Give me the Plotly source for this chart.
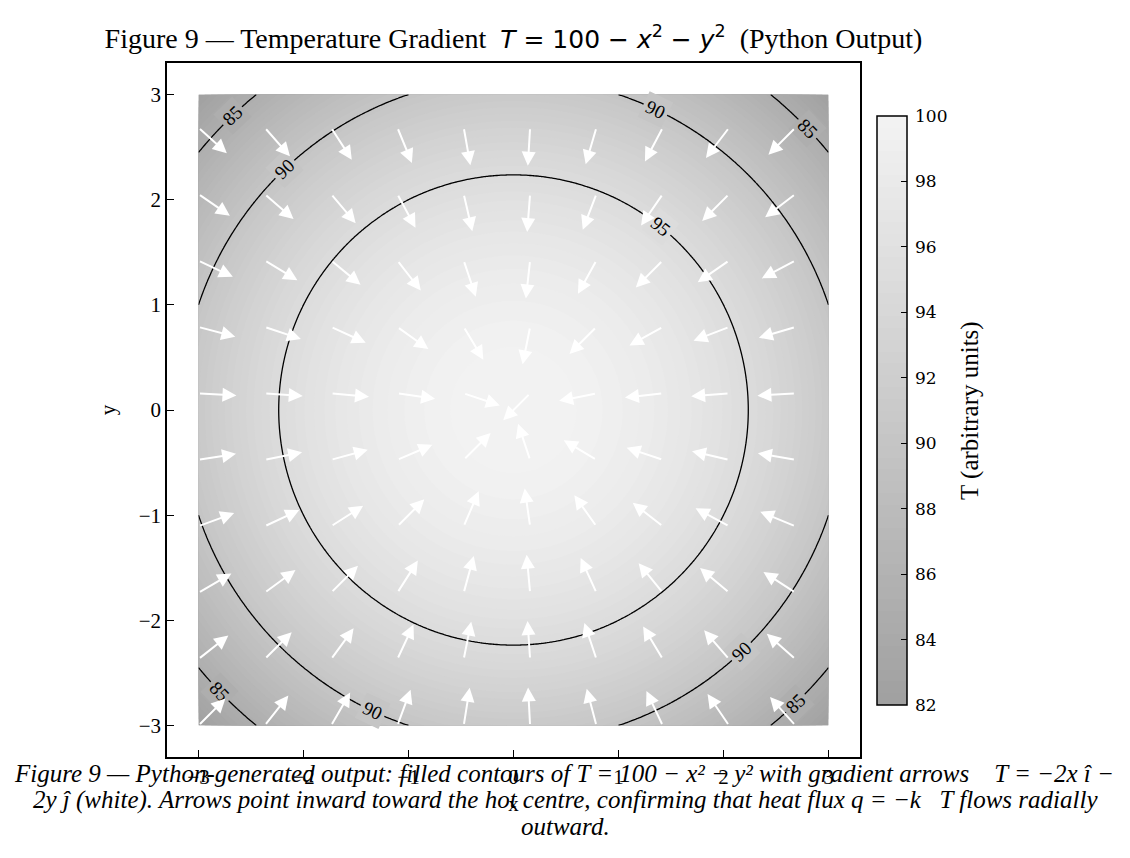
import numpy as np
import plotly.graph_objects as go

# ---------------- data ----------------
# Temperature field from the chart's own definition T = 100 - x^2 - y^2 on [-3, 3]^2
x_field = np.linspace(-3, 3, 301)
y_field = np.linspace(-3, 3, 301)
XF, YF = np.meshgrid(x_field, y_field)
T_field = 100 - XF**2 - YF**2

# quiver sample points (every second node of a 20-point grid)
arrow_x = np.linspace(-3, 3, 20)[::2]
arrow_y = np.linspace(-3, 3, 20)[::2]
arrow_len = 0.362                      # normalised arrow length (data units)

contour_levels = [85, 90, 95]
fill_levels = dict(start=82, end=100, size=0.36)
cbar_ticks = [82, 84, 86, 88, 90, 92, 94, 96, 98, 100]
axis_ticks = [-3, -2, -1, 0, 1, 2, 3]

# inline contour labels: level and polar angle (deg) on that level's circle
label_levels = [85, 85, 85, 85, 90, 90, 90, 90, 95]
label_angles = [43.7, 133.7, 223.7, 313.9, 64.7, 133.5, 244.8, 313.4, 51.2]

caption_lines = [
    "Figure 9 \u2014 Python-generated output: filled contours of T = 100 \u2212 x\u00b2 \u2212 y\u00b2 with gradient arrows \u00a0\u00a0\u00a0T = \u22122x \u00ee \u2212",
    "2y \u0135 (white). Arrows point inward toward the hot centre, confirming that heat flux q = \u2212k \u00a0\u00a0T flows radially",
    "outward.",
]

W, H = 1130, 858
SERIF = "Liberation Serif"
C_LO, C_HI = 160, 243          # grey levels at T=82 and T=100


def grey_at(t):
    g = int(round(C_LO + (t - 82) / 18 * (C_HI - C_LO)))
    return f"rgb({g},{g},{g})"


fig = go.Figure()

# filled contours
fig.add_trace(go.Contour(
    x=x_field, y=y_field, z=T_field,
    colorscale=[[0, grey_at(82)], [1, grey_at(100)]],
    zmin=82, zmax=100, autocontour=False,
    contours=dict(start=fill_levels["start"], end=fill_levels["end"], size=fill_levels["size"],
                  coloring="fill", showlines=False),
    line=dict(width=0),
    hoverinfo="skip",
    colorbar=dict(
        x=877 / W, xanchor="left", xpad=0, ypad=0,
        y=1 - 410.5 / H, yanchor="middle",
        len=589 / H, lenmode="fraction",
        thickness=30, thicknessmode="pixels",
        outlinecolor="black", outlinewidth=1.5,
        ticks="inside", ticklen=6, tickwidth=1.3, tickcolor="black",
        tickvals=cbar_ticks,
        ticktext=["\u2009" + str(v) for v in cbar_ticks],
        tickfont=dict(family="DejaVu Serif", size=17, color="black"),
    ),
))

# contour lines (black)
for lev in contour_levels:
    fig.add_trace(go.Contour(
        x=x_field, y=y_field, z=T_field,
        autocontour=False,
        colorscale=[[0, "black"], [1, "black"]],
        contours=dict(start=lev, end=lev, size=1, coloring="lines", showlabels=False),
        line=dict(width=1.3),
        showscale=False, hoverinfo="skip",
    ))

annotations = []

# inline contour labels, placed on the level circle T = lev
for lev, ang in zip(label_levels, label_angles):
    r = np.sqrt(100 - lev)
    th = np.radians(ang)
    rot = (ang + 90 + 90) % 180 - 90          # tangent direction, kept readable
    annotations.append(dict(
        x=r * np.cos(th), y=r * np.sin(th), xref="x", yref="y",
        text=str(lev), showarrow=False, textangle=-rot,
        font=dict(family=SERIF, size=19, color="black"),
        bgcolor=grey_at(lev), borderpad=3,
        xanchor="center", yanchor="middle",
    ))

# gradient arrows (pointing along grad T = (-2x, -2y), normalised)
for gy in arrow_y:
    for gx in arrow_x:
        gxv, gyv = -2 * gx, -2 * gy
        norm = np.hypot(gxv, gyv)
        ux, uy = gxv / norm, gyv / norm
        annotations.append(dict(
            x=gx + arrow_len * ux, y=gy + arrow_len * uy,
            ax=gx, ay=gy,
            xref="x", yref="y", axref="x", ayref="y",
            text="", showarrow=True,
            arrowhead=2, arrowsize=1.4, arrowwidth=2, arrowcolor="white",
            standoff=0, startstandoff=0,
        ))

# colorbar label
annotations.append(dict(
    x=970 / W, y=1 - 411 / H, xref="paper", yref="paper",
    xanchor="center", yanchor="middle", showarrow=False, textangle=-90,
    text="T (arbitrary units)",
    font=dict(family=SERIF, size=25, color="black"),
))

# caption lines
caption_y = [773, 800, 826]
caption_x = [564, 565.5, 565]
for txt, py, px in zip(caption_lines, caption_y, caption_x):
    annotations.append(dict(
        x=px / W, y=1 - py / H, xref="paper", yref="paper",
        xanchor="center", yanchor="middle", showarrow=False,
        text="<i>" + txt + "</i>",
        font=dict(family=SERIF, size=25, color="black"),
    ))

title_text = ("Figure 9 \u2014 Temperature Gradient \u00a0"
              "<span style='font-family:DejaVu Sans;font-size:25px'>"
              "<i>T</i> = 100 \u2212 <i>x</i><sup>2</sup> \u2212 <i>y</i><sup>2</sup></span>"
              "\u00a0 (Python Output)")

axis_common = dict(
    range=[-3.3, 3.3], autorange=False,
    showgrid=False, zeroline=False,
    showline=True, linecolor="black", linewidth=1.5, mirror=True,
    ticks="inside", ticklen=7, tickwidth=1.3, tickcolor="black",
    tickvals=axis_ticks,
    tickfont=dict(family=SERIF, size=21, color="black"),
)

fig.update_layout(
    width=W, height=H,
    margin=dict(l=0, r=0, t=0, b=0),
    paper_bgcolor="white", plot_bgcolor="white",
    showlegend=False,
    title=dict(text=title_text, x=513.5 / W, y=1 - 38 / H, xref="paper", yref="paper",
               xanchor="center", yanchor="middle",
               font=dict(family=SERIF, size=28, color="black")),
    xaxis=dict(domain=[167 / W, 860 / W],
               title=dict(text="x", font=dict(family=SERIF, size=21, color="black"), standoff=8),
               **axis_common),
    yaxis=dict(domain=[1 - 757 / H, 1 - 63 / H],
               title=dict(text="y", font=dict(family=SERIF, size=21, color="black"), standoff=17),
               **axis_common),
    annotations=annotations,
)

fig.write_html("out.html", config={"displayModeBar": False},
               post_script="document.body.style.margin='0';document.body.style.overflow='hidden';")
